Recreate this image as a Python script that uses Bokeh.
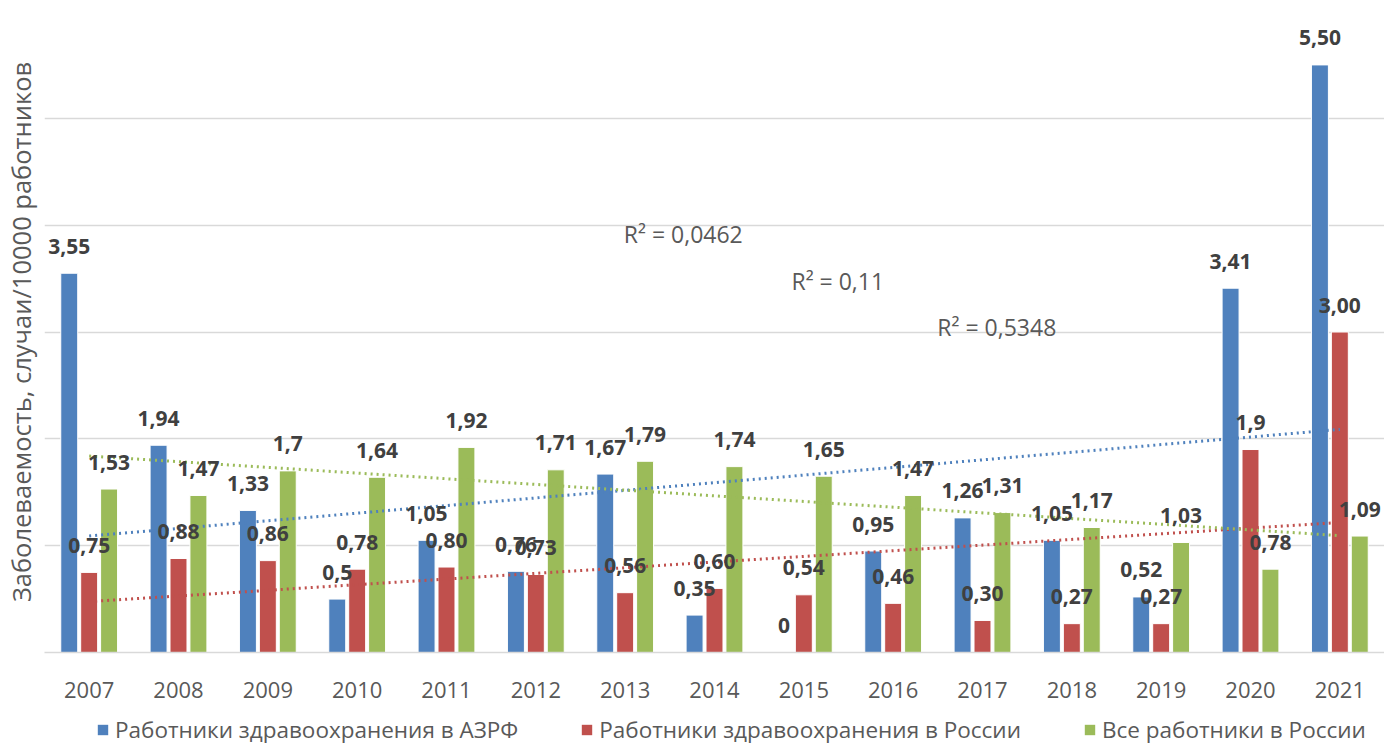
import numpy as np
from bokeh.plotting import figure
from bokeh.layouts import column
from bokeh.models import (FixedTicker, Legend, LegendItem, ColumnDataSource, Label)
from bokeh.core.properties import value
from bokeh.embed import file_html
from bokeh.resources import INLINE

years = ["2007", "2008", "2009", "2010", "2011", "2012", "2013", "2014",
         "2015", "2016", "2017", "2018", "2019", "2020", "2021"]
series_names = ["Работники здравоохранения в АЗРФ",
                "Работники здравоохранения в России",
                "Все работники в России"]
azrf = [3.55, 1.94, 1.33, 0.5, 1.05, 0.76, 1.67, 0.35, 0.0, 0.95, 1.26, 1.05, 0.52, 3.41, 5.50]
russia_hc = [0.75, 0.88, 0.86, 0.78, 0.80, 0.73, 0.56, 0.60, 0.54, 0.46, 0.30, 0.27, 0.27, 1.9, 3.00]
russia_all = [1.53, 1.47, 1.7, 1.64, 1.92, 1.71, 1.79, 1.74, 1.65, 1.47, 1.31, 1.17, 1.03, 0.78, 1.09]
azrf_labels = ["3,55", "1,94", "1,33", "0,5", "1,05", "0,76", "1,67", "0,35", "0", "0,95",
               "1,26", "1,05", "0,52", "3,41", "5,50"]
russia_hc_labels = ["0,75", "0,88", "0,86", "0,78", "0,80", "0,73", "0,56", "0,60", "0,54",
                    "0,46", "0,30", "0,27", "0,27", "1,9", "3,00"]
russia_all_labels = ["1,53", "1,47", "1,7", "1,64", "1,92", "1,71", "1,79", "1,74", "1,65",
                     "1,47", "1,31", "1,17", "1,03", "0,78", "1,09"]
r2_labels = ["R² = 0,0462", "R² = 0,11", "R² = 0,5348"]
y_label = "Заболеваемость, случаи/10000 работников"

colors = ["#4f81bd", "#c0504d", "#9bbb59"]
FONT = "Open Sans"

idx = np.arange(len(years))
p = figure(width=1384, height=712, output_backend="svg", toolbar_location=None,
           x_range=(-0.5, len(years) - 0.5), y_range=(0, 6),
           min_border_left=44, min_border_right=0, min_border_top=11,
           min_border_bottom=60)
p.outline_line_color = None
p.background_fill_color = "white"
p.border_fill_color = "white"

p.xgrid.grid_line_color = None
p.ygrid.grid_line_color = "#d9d9d9"
p.ygrid.grid_line_width = 1.5
p.yaxis.ticker = FixedTicker(ticks=[0, 1, 2, 3, 4, 5, 6])
p.xaxis.ticker = FixedTicker(ticks=list(range(len(years))))
p.xaxis.major_label_overrides = {i: y for i, y in enumerate(years)}
p.xaxis.major_label_text_font = FONT
p.xaxis.major_label_text_font_size = "22px"
p.xaxis.major_label_text_color = "#595959"
p.xaxis.major_label_standoff = 29
p.xaxis.axis_line_color = "#d9d9d9"
p.xaxis.axis_line_width = 1.5
p.xaxis.major_tick_line_color = None
p.xaxis.major_tick_out = 0
p.xaxis.major_tick_in = 0
p.xaxis.minor_tick_line_color = None

p.yaxis.axis_line_color = None
p.yaxis.major_tick_line_color = None
p.yaxis.major_tick_out = 0
p.yaxis.major_tick_in = 0
p.yaxis.minor_tick_line_color = None
p.yaxis.major_label_text_font_size = "1px"
p.yaxis.major_label_text_alpha = 0
p.yaxis.major_label_standoff = 0
p.yaxis.axis_label = y_label
p.yaxis.axis_label_text_font = FONT
p.yaxis.axis_label_text_font_size = "25.5px"
p.yaxis.axis_label_text_font_style = "normal"
p.yaxis.axis_label_text_color = "#595959"
p.yaxis.axis_label_standoff = 7

offsets = [-0.223, 0.0, 0.223]
datasets = [azrf, russia_hc, russia_all]
labelsets = [azrf_labels, russia_hc_labels, russia_all_labels]
for vals, off, col in zip(datasets, offsets, colors):
    src = ColumnDataSource(dict(x=idx + off, top=vals))
    p.vbar(x="x", top="top", width=0.19, source=src, fill_color=col,
           line_color="white", line_width=1)

# linear trend lines (Excel-style)
for vals, col in zip(datasets, colors):
    k, b = np.polyfit(idx, np.array(vals, dtype=float), 1)
    xs = np.array([0, len(years) - 1], dtype=float)
    p.line(xs, k * xs + b, line_color=col, line_width=3, line_dash="2 4")

# data labels
for vals, labs, off in zip(datasets, labelsets, offsets):
    src = ColumnDataSource(dict(x=idx + off, y=vals, lab=labs))
    p.text(x="x", y="y", text="lab", source=src, text_align="center",
           text_baseline="middle", y_offset=-27, text_font=value(FONT),
           text_font_size="21px", text_font_style="bold", text_color="#404040")

# R² annotations
for txt, (lx, ly) in zip(r2_labels, [(6.65, 3.92), (8.38, 3.48), (10.16, 3.05)]):
    p.add_layout(Label(x=lx, y=ly, text=txt, text_align="center",
                       text_baseline="middle", text_font=FONT,
                       text_font_size="23px", text_color="#595959"))

# legend strip
lg = figure(width=1384, height=33, output_backend="svg", toolbar_location=None,
            x_range=(0, 1), y_range=(0, 1), min_border=0,
            x_axis_location=None, y_axis_location=None)
lg.grid.visible = False
lg.outline_line_color = None
lg.background_fill_color = "white"
lg.border_fill_color = "white"
swatches = [lg.vbar(x=[-5], top=[0], width=0.1, fill_color=c, line_color=None)
            for c in colors]
legend = Legend(items=[LegendItem(label=n, renderers=[r]) for n, r in zip(series_names, swatches)],
                orientation="horizontal", location=(52, 0))
legend.label_text_font = FONT
legend.label_text_font_size = "22.5px"
legend.label_text_color = "#595959"
legend.glyph_width = 13
legend.glyph_height = 13
legend.label_standoff = 6
legend.spacing = 62
legend.padding = 0
legend.margin = 0
legend.border_line_color = None
legend.background_fill_alpha = 0
lg.add_layout(legend, "center")

layout = column(p, lg, spacing=0)
open("out.html", "w").write(file_html(layout, INLINE))
